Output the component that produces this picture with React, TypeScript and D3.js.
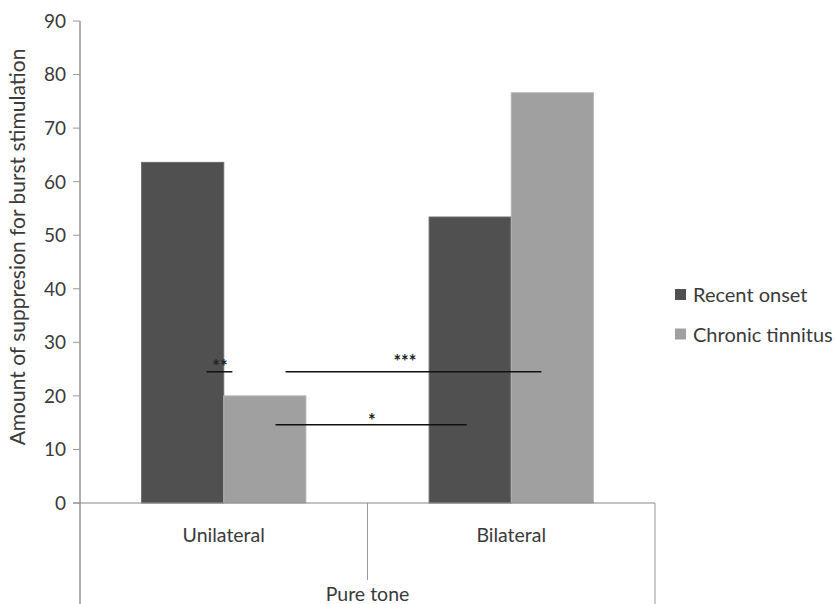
import React from "react";
import * as d3 from "d3";

const categories = ["Unilateral", "Bilateral"];
const groupLabel = "Pure tone";
const seriesNames = ["Recent onset", "Chronic tinnitus"];
const recentOnset = [63.6, 53.4];
const chronicTinnitus = [20, 76.6];
const seriesColors = ["#505050", "#a0a0a0"];
const yTicks = [0, 10, 20, 30, 40, 50, 60, 70, 80, 90];
// significance brackets: value level, start/end/label as fractions of a category band
const sigLines = [
  { label: "**", y: 24.5, x0: 0.44, x1: 0.53, lx: 0.487, dy: 1 },
  { label: "***", y: 24.5, x0: 0.715, x1: 1.605, lx: 1.13, dy: -4 },
  { label: "*", y: 14.6, x0: 0.68, x1: 1.345, lx: 1.015, dy: 2 },
];

export default function App() {
  const W = 836, H = 604;
  const left = 80, right = 655, top = 21, bottom = 503;
  const y = d3.scaleLinear().domain([0, 90]).range([bottom, top]);
  const x = d3.scaleBand<string>().domain(categories).range([left, right]);
  const inner = d3.scaleBand<string>().domain(seriesNames).range([0, x.bandwidth()]).paddingOuter(0.75).paddingInner(0);
  const series = [recentOnset, chronicTinnitus];
  const font = "Lato, 'Open Sans', sans-serif";
  const bw = x.bandwidth();
  const fx = (v: number) => left + v * bw;
  const tc = "#3a3a3a";

  return (
    <svg width={W} height={H} style={{ position: "absolute", left: 0, top: 0 }} fontFamily={font}>
      <rect width={W} height={H} fill="#fff" />
      {/* bars */}
      {categories.map((c, ci) =>
        seriesNames.map((s, si) => (
          <rect
            key={c + s}
            x={(x(c) as number) + (inner(s) as number)}
            y={y(series[si][ci])}
            width={inner.bandwidth()}
            height={bottom - y(series[si][ci])}
            fill={seriesColors[si]}
            stroke={si === 0 ? "#6a6a6a" : "#b4b4b4"}
            strokeWidth={1}
          />
        ))
      )}
      {/* y axis */}
      <line x1={left} x2={left} y1={top} y2={H} stroke="#b0b0b0" strokeWidth={2} />
      {yTicks.map((t) => (
        <g key={t}>
          <line x1={left - 7} x2={left} y1={y(t)} y2={y(t)} stroke="#999" strokeWidth={1} />
          <text x={left - 14} y={y(t)} dy="0.36em" textAnchor="end" fontSize={19} fill={tc}>
            {t}
          </text>
        </g>
      ))}
      {/* x axis */}
      <line x1={left - 7} x2={right} y1={bottom} y2={bottom} stroke="#888" strokeWidth={1} />
      <line x1={right} x2={right} y1={bottom} y2={H} stroke="#999" strokeWidth={1} />
      <line x1={left + bw} x2={left + bw} y1={bottom} y2={580} stroke="#999" strokeWidth={1} />
      {categories.map((c) => (
        <text key={c} x={(x(c) as number) + bw / 2} y={542} textAnchor="middle" fontSize={19.5} fill={tc}>
          {c}
        </text>
      ))}
      <text x={(left + right) / 2} y={601} textAnchor="middle" fontSize={19.5} fill={tc}>
        {groupLabel}
      </text>
      {/* y title */}
      <text
        transform={`translate(25, 247) rotate(-90)`}
        textAnchor="middle"
        fontSize={21}
        fill={tc}
      >
        Amount of suppresion for burst stimulation
      </text>
      {/* significance */}
      {sigLines.map((s, i) => (
        <g key={i}>
          <line x1={fx(s.x0)} x2={fx(s.x1)} y1={y(s.y)} y2={y(s.y)} stroke="#111" strokeWidth={1.5} />
          <text x={fx(s.lx)} y={y(s.y) + s.dy} textAnchor="middle" fontSize={18} fontWeight="bold" fill="#222">
            {s.label}
          </text>
        </g>
      ))}
      {/* legend */}
      {seriesNames.map((s, i) => (
        <g key={s} transform={`translate(675, ${295 + i * 39.5})`}>
          <rect x={0} y={-6} width={11} height={11} fill={seriesColors[i]} />
          <text x={18} y={0} dy="0.36em" fontSize={20} fill={tc}>
            {s}
          </text>
        </g>
      ))}
    </svg>
  );
}
